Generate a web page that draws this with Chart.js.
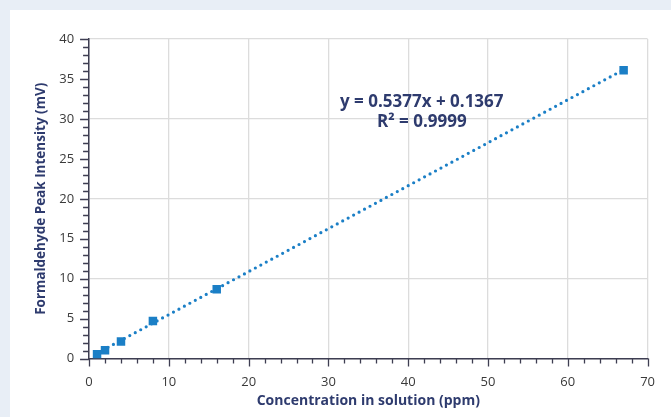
<!DOCTYPE html>
<html>
<head>
<meta charset="utf-8">
<script src="https://cdn.jsdelivr.net/npm/chart.js@4"></script>
<style>
  html, body { margin: 0; padding: 0; }
  body { width: 671px; height: 417px; background: #e8eef6; position: relative; overflow: hidden; }
  #card { position: absolute; left: 10px; top: 10px; right: 0; bottom: 0; background: #fff; }
  #chart { position: absolute; left: 0; top: 0; }
</style>
</head>
<body>
<div id="card"></div>
<canvas id="chart" width="671" height="417"></canvas>
<script>
// measured points
var concX = [1, 2, 4, 8, 16, 67];
var peakY = [0.54, 1.04, 2.13, 4.7, 8.68, 36.1];

// linear trendline ends
var trendX = [1, 67];
var trendY = [0.67, 36.16];

var xTicks = [0, 10, 20, 30, 40, 50, 60, 70];
var yTicks = [0, 5, 10, 15, 20, 25, 30, 35, 40];

var eqText = ["y = 0.5377x + 0.1367", "R² = 0.9999"];

var blue = "#1b7fc6";
var axisCol = "#3e3e52";
var navy = "#2e3b6e";
var fontFam = "'Open Sans', 'Noto Sans', sans-serif";

var points = concX.map(function (x, i) { return { x: x, y: peakY[i] }; });
var trend = trendX.map(function (x, i) { return { x: x, y: trendY[i] }; });

// draws major / minor tick marks and the equation text
var extras = {
  id: "extras",
  afterDraw: function (chart) {
    var c = chart.ctx;
    var xs = chart.scales.x, ys = chart.scales.y;
    c.save();
    c.strokeStyle = axisCol;
    c.lineWidth = 1.3;
    c.beginPath();
    for (var v = 0; v <= 70; v += 2) {
      var px = Math.round(xs.getPixelForValue(v)) + 0.5;
      var len = v % 10 === 0 ? 8 : 5;
      c.moveTo(px, ys.bottom);
      c.lineTo(px, ys.bottom + len);
    }
    for (var w = 0; w <= 40; w += 1) {
      var py = Math.round(ys.getPixelForValue(w)) + 0.5;
      var l2 = w % 5 === 0 ? 9 : 6;
      c.moveTo(xs.left, py);
      c.lineTo(xs.left - l2, py);
    }
    c.stroke();

    c.fillStyle = navy;
    c.font = "bold 17px " + fontFam;
    c.textAlign = "center";
    c.textBaseline = "middle";
    c.fillText(eqText[0], xs.getPixelForValue(41.7), ys.getPixelForValue(32.15));
    c.fillText(eqText[1], xs.getPixelForValue(41.7), ys.getPixelForValue(29.65));
    c.restore();
  }
};

new Chart(document.getElementById("chart"), {
  type: "scatter",
  data: {
    datasets: [
      {
        label: "Trend",
        data: trend,
        showLine: true,
        borderColor: blue,
        borderWidth: 3.2,
        borderDash: [0, 6.2],
        borderCapStyle: "round",
        pointRadius: 0,
        fill: false
      },
      {
        label: "Formaldehyde",
        data: points,
        pointStyle: "rect",
        pointRadius: 6,
        pointBackgroundColor: blue,
        pointBorderColor: blue,
        pointBorderWidth: 0
      }
    ]
  },
  options: {
    responsive: false,
    animation: false,
    layout: { padding: { left: 33, right: 23, top: 39, bottom: 8 } },
    plugins: {
      legend: { display: false },
      tooltip: { enabled: false }
    },
    scales: {
      x: {
        type: "linear",
        min: 0,
        max: 70,
        afterBuildTicks: function (s) { s.ticks = xTicks.map(function (v) { return { value: v }; }); },
        grid: { color: "#dcdcdc", lineWidth: 1.3, drawTicks: false },
        border: { color: axisCol, width: 1.5 },
        ticks: { padding: 16, color: "#3a3a3a", font: { family: fontFam, size: 13 } },
        title: {
          display: true,
          text: "Concentration in solution (ppm)",
          color: navy,
          padding: { top: -14, bottom: 0 },
          font: { family: fontFam, size: 14, weight: "bold" }
        }
      },
      y: {
        type: "linear",
        min: 0,
        max: 40,
        afterBuildTicks: function (s) { s.ticks = yTicks.map(function (v) { return { value: v }; }); },
        grid: {
          color: function (ctx) { return ctx.tick && ctx.tick.value % 10 === 0 ? "#dcdcdc" : "rgba(0,0,0,0)"; },
          lineWidth: 1.3,
          drawTicks: false
        },
        border: { color: axisCol, width: 1.5 },
        ticks: { padding: 15, color: "#3a3a3a", font: { family: fontFam, size: 13 } },
        title: {
          display: true,
          text: "Formaldehyde Peak Intensity (mV)",
          color: navy,
          padding: { top: 0, bottom: -5 },
          font: { family: fontFam, size: 13.5, weight: "bold" }
        }
      }
    }
  },
  plugins: [extras]
});
</script>
</body>
</html>
